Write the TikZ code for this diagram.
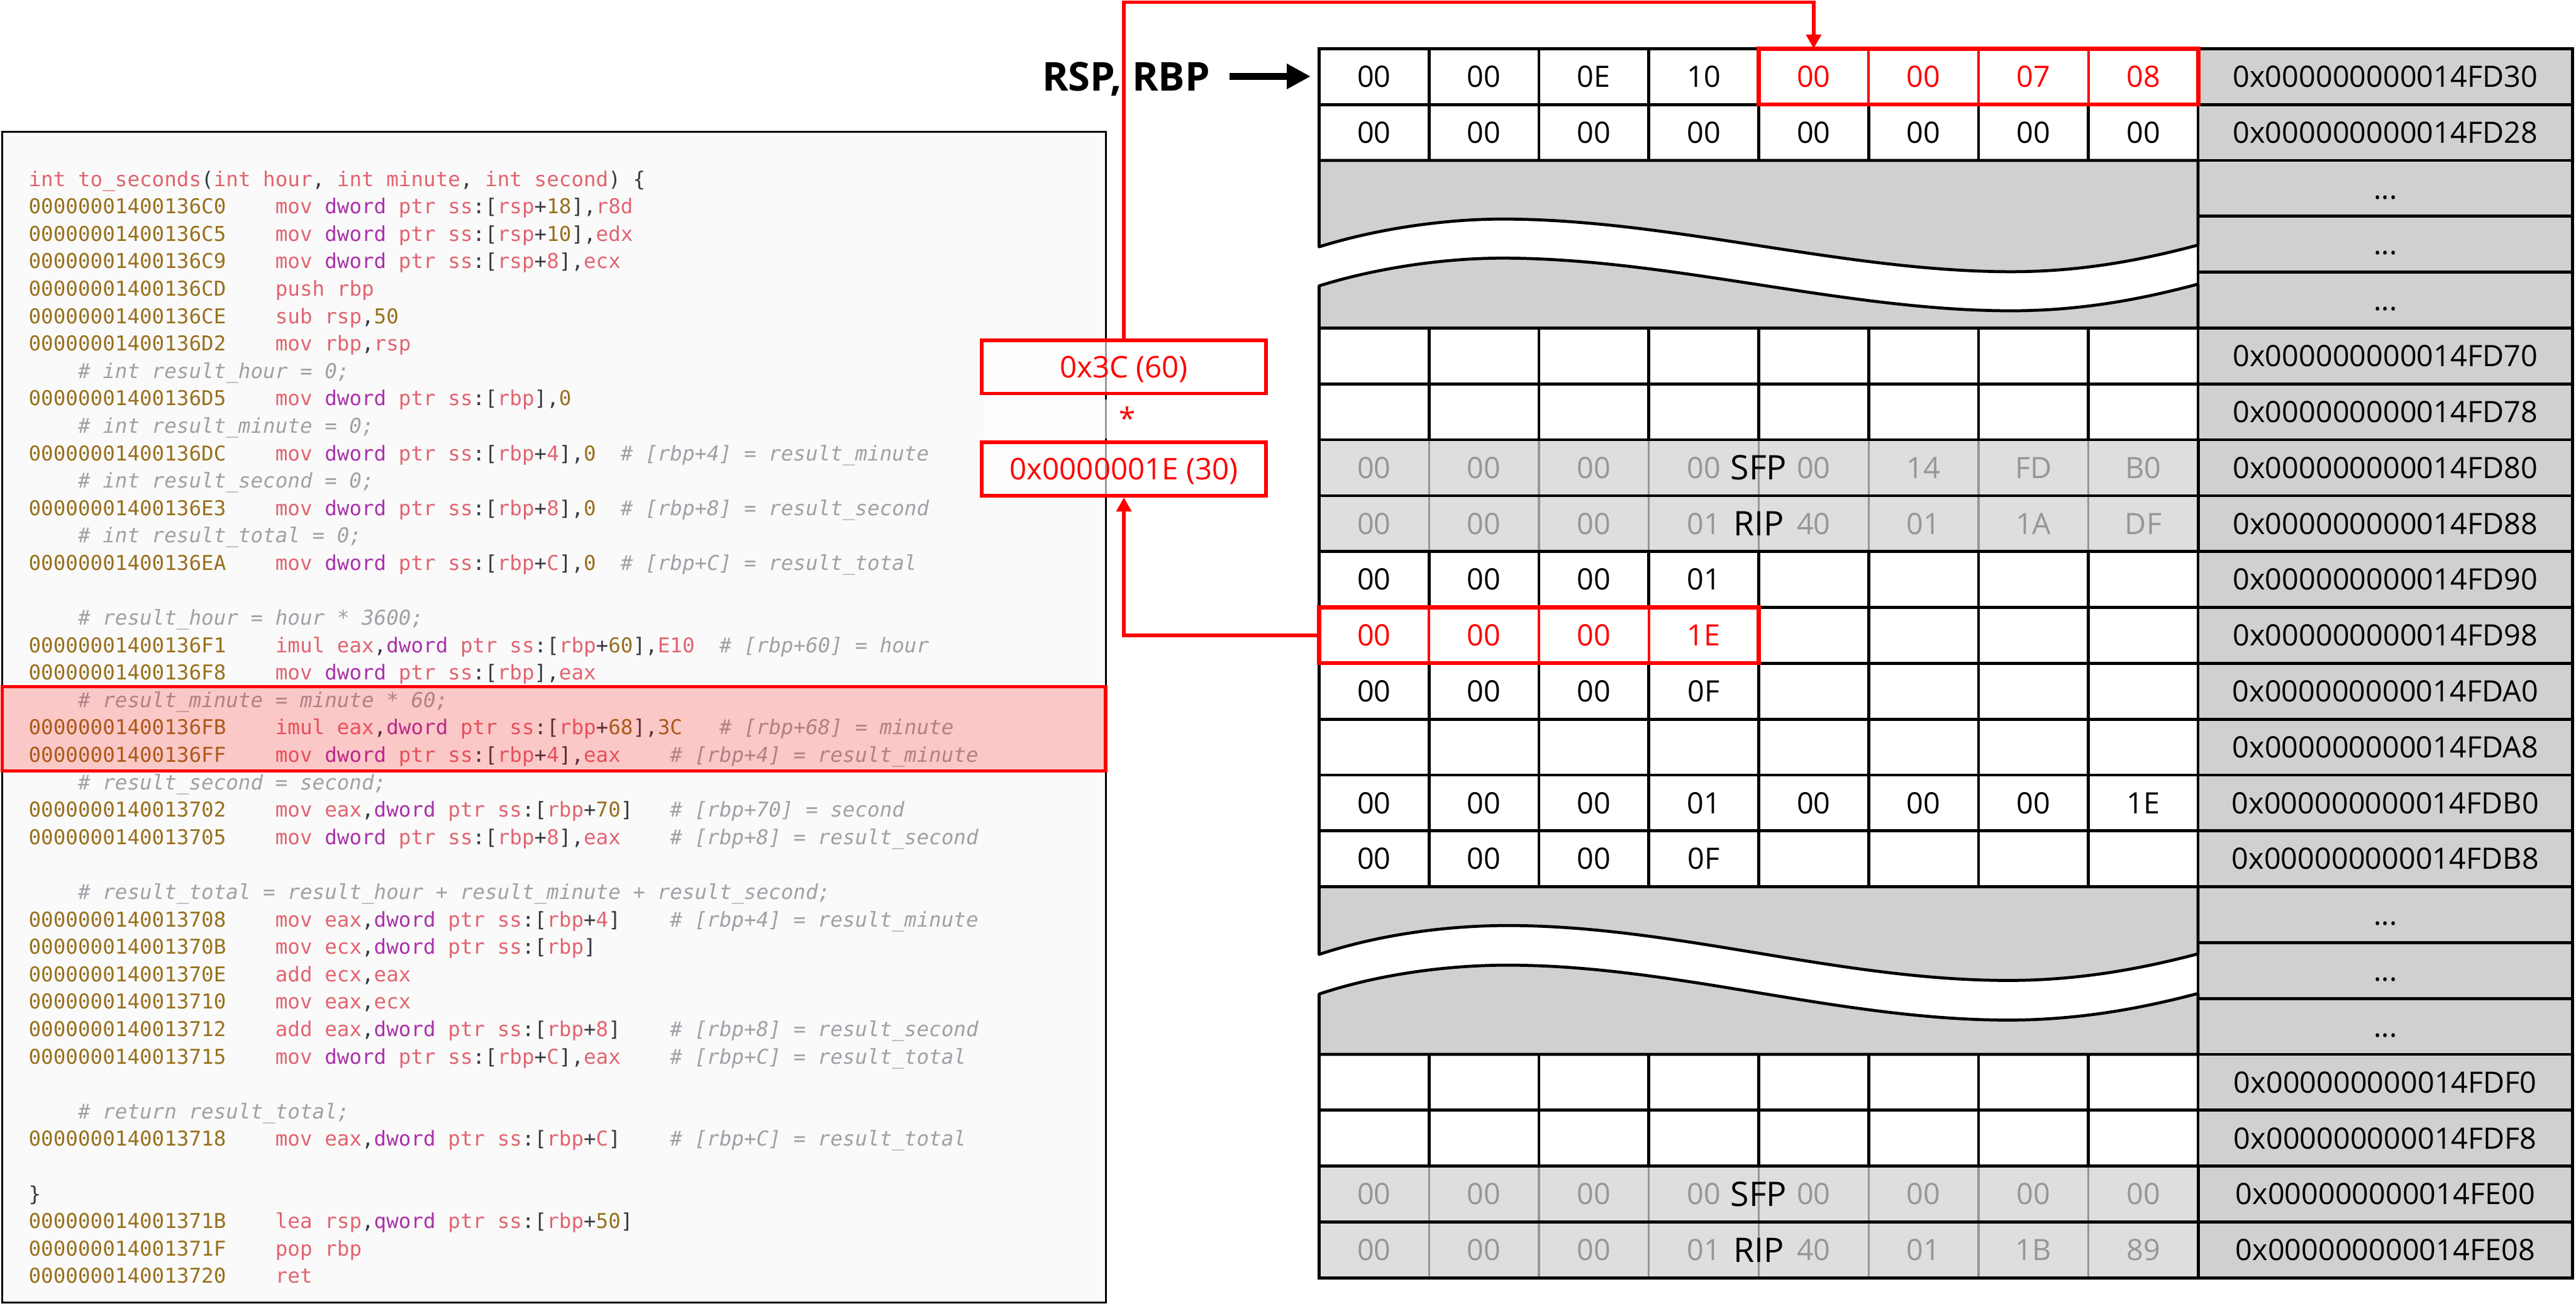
\documentclass[tikz,border=0pt]{standalone}
\usepackage{fontspec}
\usetikzlibrary{positioning, arrows.meta}
\newfontfamily\tabfont{Open Sans}
\newfontfamily\codefont{DejaVu Sans Mono}

\definecolor{addrc}{RGB}{152,112,30}
\definecolor{opc}{RGB}{226,100,112}
\definecolor{dwc}{RGB}{170,50,170}
\definecolor{plc}{RGB}{56,58,66}
\definecolor{cmtc}{RGB}{160,161,167}
\definecolor{codebg}{RGB}{250,250,250}
\definecolor{cellgrey}{RGB}{208,208,208}
\definecolor{rowgrey}{RGB}{222,222,222}
\definecolor{valgrey}{RGB}{150,150,150}

% syntax colours of the listing
\newcommand\ad[1]{\textcolor{addrc}{#1}}
\newcommand\op[1]{\textcolor{opc}{#1}}
\newcommand\dw[1]{\textcolor{dwc}{#1}}
\newcommand\nm[1]{\textcolor{addrc}{#1}}
\newcommand\pl[1]{\textcolor{plc}{#1}}
\newcommand\cmt[1]{{\itshape\color{cmtc}#1}}
\newcommand\dptr{\dw{dword} \op{ptr ss}\pl{:[}}
\newcommand\qptr{\dw{qword} \op{ptr ss}\pl{:[}}

% one line of the listing
\newcommand\codeln[2]{\node[code] (l#1) at (0.50,{-3.29-0.4845*(#1-1)}) {#2};}

% one row of the stack: index, style/value pairs, address
\newcommand\memrow[3]{%
  \foreach \s/\v [count=\c from 0] in {#2}
    \node[\s] (m-#1-\c) at ({\TabX+\ColW*(\c+0.5)},{\TabY-\RowH*(#1+0.5)}) {\v};
  \node[addr] (a-#1) at (42.15,{\TabY-\RowH*(#1+0.5)}) {#3};
}

\begin{document}
\begin{tikzpicture}[
    code/.style={anchor=base west, inner sep=0pt, font=\codefont\fontsize{10.3}{12}\selectfont},
    cell/.style={draw=black, line width=1.5pt, minimum width=1.942cm, minimum height=0.987cm,
      inner sep=0pt, outer sep=0pt, font=\tabfont\fontsize{14.8}{16}\selectfont,
      text height=10.6pt, text depth=0pt},
    greycell/.style={cell, fill=rowgrey, draw=valgrey, line width=1pt, text=valgrey},
    redcell/.style={cell, draw=red, text=red, line width=1.2pt},
    addr/.style={cell, fill=cellgrey, minimum width=6.62cm},
    tag/.style={inner sep=0pt, font=\tabfont\fontsize{17}{19}\selectfont, text height=12.2pt, text depth=0pt},
    wave/.style={fill=cellgrey, draw=black, line width=1.5pt, line join=round},
    redbox/.style={draw=red, line width=1.8pt, fill=white, fill opacity=0.6, text opacity=1,
      text=red, minimum width=5.02cm, minimum height=0.94cm, inner sep=0pt,
      font=\tabfont\fontsize{15}{17}\selectfont, text height=10.7pt, text depth=0pt},
    redline/.style={draw=red, line width=1.8pt, -{Triangle[length=0.25cm,width=0.26cm]}},
    fatarrow/.style={line width=0.13cm, -{Triangle[length=0.42cm,width=0.42cm]}}
  ]
  \def\TabX{23.31} % left edge of the stack
  \def\TabY{-0.86} % top edge of the stack
  \def\ColW{1.942}
  \def\RowH{0.987}

  \useasboundingbox (0,0) rectangle (45.52,-23.07);

  % --- listing ---
  \draw[line width=0.9pt, fill=codebg] (0.04,-2.33) rectangle (19.54,-23.01);

  \codeln{1}{\op{int to\_seconds}\pl{(}\op{int hour}\pl{,} \op{int minute}\pl{,} \op{int second}\pl{) \{}}
  \codeln{2}{\ad{00000001400136C0}~~~~\op{mov} \dptr\op{rsp}\pl{+}\nm{18}\pl{],}\op{r8d}}
  \codeln{3}{\ad{00000001400136C5}~~~~\op{mov} \dptr\op{rsp}\pl{+}\nm{10}\pl{],}\op{edx}}
  \codeln{4}{\ad{00000001400136C9}~~~~\op{mov} \dptr\op{rsp}\pl{+}\op{8}\pl{],}\op{ecx}}
  \codeln{5}{\ad{00000001400136CD}~~~~\op{push rbp}}
  \codeln{6}{\ad{00000001400136CE}~~~~\op{sub rsp}\pl{,}\nm{50}}
  \codeln{7}{\ad{00000001400136D2}~~~~\op{mov rbp}\pl{,}\op{rsp}}
  \codeln{8}{~~~~\cmt{\# int result\_hour = 0;}}
  \codeln{9}{\ad{00000001400136D5}~~~~\op{mov} \dptr\op{rbp}\pl{],}\nm{0}}
  \codeln{10}{~~~~\cmt{\# int result\_minute = 0;}}
  \codeln{11}{\ad{00000001400136DC}~~~~\op{mov} \dptr\op{rbp}\pl{+}\op{4}\pl{],}\nm{0}~~\cmt{\# [rbp+4] = result\_minute}}
  \codeln{12}{~~~~\cmt{\# int result\_second = 0;}}
  \codeln{13}{\ad{00000001400136E3}~~~~\op{mov} \dptr\op{rbp}\pl{+}\op{8}\pl{],}\nm{0}~~\cmt{\# [rbp+8] = result\_second}}
  \codeln{14}{~~~~\cmt{\# int result\_total = 0;}}
  \codeln{15}{\ad{00000001400136EA}~~~~\op{mov} \dptr\op{rbp}\pl{+}\op{C}\pl{],}\nm{0}~~\cmt{\# [rbp+C] = result\_total}}
  \codeln{17}{~~~~\cmt{\# result\_hour = hour * 3600;}}
  \codeln{18}{\ad{00000001400136F1}~~~~\op{imul eax}\pl{,}\dptr\op{rbp}\pl{+}\nm{60}\pl{],}\op{E10}~~\cmt{\# [rbp+60] = hour}}
  \codeln{19}{\ad{00000001400136F8}~~~~\op{mov} \dptr\op{rbp}\pl{],}\op{eax}}
  \codeln{20}{~~~~\cmt{\# result\_minute = minute * 60;}}
  \codeln{21}{\ad{00000001400136FB}~~~~\op{imul eax}\pl{,}\dptr\op{rbp}\pl{+}\nm{68}\pl{],}\nm{3C}~~~\cmt{\# [rbp+68] = minute}}
  \codeln{22}{\ad{00000001400136FF}~~~~\op{mov} \dptr\op{rbp}\pl{+}\op{4}\pl{],}\op{eax}~~~~\cmt{\# [rbp+4] = result\_minute}}
  \codeln{23}{~~~~\cmt{\# result\_second = second;}}
  \codeln{24}{\ad{0000000140013702}~~~~\op{mov eax}\pl{,}\dptr\op{rbp}\pl{+}\nm{70}\pl{]}~~~\cmt{\# [rbp+70] = second}}
  \codeln{25}{\ad{0000000140013705}~~~~\op{mov} \dptr\op{rbp}\pl{+}\op{8}\pl{],}\op{eax}~~~~\cmt{\# [rbp+8] = result\_second}}
  \codeln{27}{~~~~\cmt{\# result\_total = result\_hour + result\_minute + result\_second;}}
  \codeln{28}{\ad{0000000140013708}~~~~\op{mov eax}\pl{,}\dptr\op{rbp}\pl{+}\op{4}\pl{]}~~~~\cmt{\# [rbp+4] = result\_minute}}
  \codeln{29}{\ad{000000014001370B}~~~~\op{mov ecx}\pl{,}\dptr\op{rbp}\pl{]}}
  \codeln{30}{\ad{000000014001370E}~~~~\op{add ecx}\pl{,}\op{eax}}
  \codeln{31}{\ad{0000000140013710}~~~~\op{mov eax}\pl{,}\op{ecx}}
  \codeln{32}{\ad{0000000140013712}~~~~\op{add eax}\pl{,}\dptr\op{rbp}\pl{+}\op{8}\pl{]}~~~~\cmt{\# [rbp+8] = result\_second}}
  \codeln{33}{\ad{0000000140013715}~~~~\op{mov} \dptr\op{rbp}\pl{+}\op{C}\pl{],}\op{eax}~~~~\cmt{\# [rbp+C] = result\_total}}
  \codeln{35}{~~~~\cmt{\# return result\_total;}}
  \codeln{36}{\ad{0000000140013718}~~~~\op{mov eax}\pl{,}\dptr\op{rbp}\pl{+}\op{C}\pl{]}~~~~\cmt{\# [rbp+C] = result\_total}}
  \codeln{38}{\pl{\}}}
  \codeln{39}{\ad{000000014001371B}~~~~\op{lea rsp}\pl{,}\qptr\op{rbp}\pl{+}\nm{50}\pl{]}}
  \codeln{40}{\ad{000000014001371F}~~~~\op{pop rbp}}
  \codeln{41}{\ad{0000000140013720}~~~~\op{ret}}

  % highlighted instructions
  \draw[draw=red, line width=1.8pt, fill=red, fill opacity=0.2] (0.04,-12.13) rectangle (19.54,-13.62);

  % --- stack ---
  \memrow{0}{cell/00,cell/00,cell/0E,cell/10,redcell/00,redcell/00,redcell/07,redcell/08}{0x000000000014FD30}
  \memrow{1}{cell/00,cell/00,cell/00,cell/00,cell/00,cell/00,cell/00,cell/00}{0x000000000014FD28}
  \node[addr] (a-2) at (42.15,{\TabY-\RowH*2.5}) {...};
  \node[addr] (a-3) at (42.15,{\TabY-\RowH*3.5}) {...};
  \node[addr] (a-4) at (42.15,{\TabY-\RowH*4.5}) {...};
  \memrow{5}{cell/{},cell/{},cell/{},cell/{},cell/{},cell/{},cell/{},cell/{}}{0x000000000014FD70}
  \memrow{6}{cell/{},cell/{},cell/{},cell/{},cell/{},cell/{},cell/{},cell/{}}{0x000000000014FD78}
  \memrow{7}{greycell/00,greycell/00,greycell/00,greycell/00,greycell/00,greycell/14,greycell/FD,greycell/B0}{0x000000000014FD80}
  \memrow{8}{greycell/00,greycell/00,greycell/00,greycell/01,greycell/40,greycell/01,greycell/1A,greycell/DF}{0x000000000014FD88}
  \memrow{9}{cell/00,cell/00,cell/00,cell/01,cell/{},cell/{},cell/{},cell/{}}{0x000000000014FD90}
  \memrow{10}{redcell/00,redcell/00,redcell/00,redcell/1E,cell/{},cell/{},cell/{},cell/{}}{0x000000000014FD98}
  \memrow{11}{cell/00,cell/00,cell/00,cell/0F,cell/{},cell/{},cell/{},cell/{}}{0x000000000014FDA0}
  \memrow{12}{cell/{},cell/{},cell/{},cell/{},cell/{},cell/{},cell/{},cell/{}}{0x000000000014FDA8}
  \memrow{13}{cell/00,cell/00,cell/00,cell/01,cell/00,cell/00,cell/00,cell/1E}{0x000000000014FDB0}
  \memrow{14}{cell/00,cell/00,cell/00,cell/0F,cell/{},cell/{},cell/{},cell/{}}{0x000000000014FDB8}
  \node[addr] (a-15) at (42.15,{\TabY-\RowH*15.5}) {...};
  \node[addr] (a-16) at (42.15,{\TabY-\RowH*16.5}) {...};
  \node[addr] (a-17) at (42.15,{\TabY-\RowH*17.5}) {...};
  \memrow{18}{cell/{},cell/{},cell/{},cell/{},cell/{},cell/{},cell/{},cell/{}}{0x000000000014FDF0}
  \memrow{19}{cell/{},cell/{},cell/{},cell/{},cell/{},cell/{},cell/{},cell/{}}{0x000000000014FDF8}
  \memrow{20}{greycell/00,greycell/00,greycell/00,greycell/00,greycell/00,greycell/00,greycell/00,greycell/00}{0x000000000014FE00}
  \memrow{21}{greycell/00,greycell/00,greycell/00,greycell/01,greycell/40,greycell/01,greycell/1B,greycell/89}{0x000000000014FE08}

  % frames of the saved rows
  \foreach \r in {7,8,20,21}
    \draw[line width=1.5pt] (m-\r-0.north west) rectangle (m-\r-7.south east);
  \node[tag] (sfp1) at (m-7-3.east) {SFP};
  \node[tag] (rip1) at (m-8-3.east) {RIP};
  \node[tag] (sfp2) at (m-20-3.east) {SFP};
  \node[tag] (rip2) at (m-21-3.east) {RIP};

  % red groups
  \draw[draw=red, line width=2pt] (m-0-4.north west) rectangle (m-0-7.south east);
  \draw[draw=red, line width=2pt] (m-10-0.north west) rectangle (m-10-3.south east);

  % wavy breaks
  \draw[wave] (23.31,-4.36) -- (23.31,-2.834) -- (38.84,-2.834) -- (38.84,-4.33)
    .. controls (38.0,-4.55) and (36.9,-4.80) .. (35.54,-4.80)
    .. controls (32.6,-4.80) and (29.5,-3.87) .. (26.55,-3.87)
    .. controls (25.5,-3.87) and (24.3,-4.05) .. (23.31,-4.36) -- cycle;
  \draw[wave] (23.31,-5.05) .. controls (24.3,-4.74) and (25.5,-4.56) .. (26.55,-4.56)
    .. controls (29.5,-4.56) and (32.6,-5.49) .. (35.54,-5.49)
    .. controls (36.9,-5.49) and (38.0,-5.24) .. (38.84,-5.02)
    -- (38.84,-5.795) -- (23.31,-5.795) -- cycle;
  \draw[wave] (23.31,-16.86) -- (23.31,-15.665) -- (38.84,-15.665) -- (38.84,-16.85)
    .. controls (38.0,-17.07) and (36.85,-17.32) .. (35.49,-17.32)
    .. controls (32.5,-17.32) and (29.6,-16.35) .. (26.64,-16.35)
    .. controls (25.5,-16.35) and (24.3,-16.53) .. (23.31,-16.86) -- cycle;
  \draw[wave] (23.31,-17.56) .. controls (24.3,-17.23) and (25.5,-17.05) .. (26.64,-17.05)
    .. controls (29.6,-17.05) and (32.5,-18.02) .. (35.49,-18.02)
    .. controls (36.85,-18.02) and (38.0,-17.77) .. (38.84,-17.55)
    -- (38.84,-18.626) -- (23.31,-18.626) -- cycle;

  % --- registers and the multiplication ---
  \node[inner sep=0pt, font=\tabfont\bfseries\fontsize{20}{22}\selectfont, text height=14.3pt, text depth=0pt]
    (rsp) at (19.90,-1.35) {RSP, RBP};
  \draw[fatarrow, shorten <=0.34cm, shorten >=0.15cm] (rsp.east) -- (rsp.east -| m-0-0.west);

  \node[redbox] (mul) at (19.86,-6.48) {0x3C (60)};
  \node[redbox, draw=none, minimum height=0.69cm] (op) at (19.92,-7.40) {*};
  \node[redbox] (res) at (19.86,-8.285) {0x0000001E (30)};

  \draw[redline] (mul.north) |- ([yshift=0.82cm]m-0-4.north) -- (m-0-4.north);
  \draw[redline] (m-10-0.west) -| (res.south);
\end{tikzpicture}
\end{document}
